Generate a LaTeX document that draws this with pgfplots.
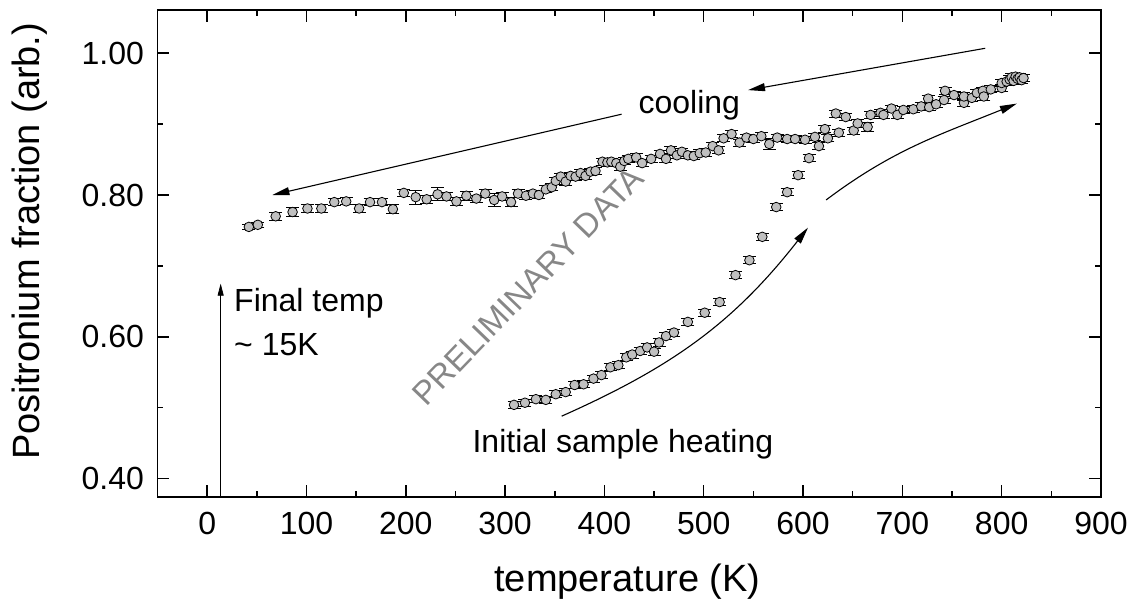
\documentclass[border=0pt]{standalone}
\usepackage{fontspec}
\setmainfont{Liberation Sans}
\usepackage{pgfplots}
\pgfplotsset{compat=1.18}
\usetikzlibrary{arrows.meta}
\definecolor{mfill}{RGB}{192,192,192}
\definecolor{wm}{RGB}{135,135,135}
\begin{document}
\begin{tikzpicture}
\begin{axis}[
  at={(0pt,0pt)}, anchor=south west,
  scale only axis, width=943.5pt, height=487pt,
  xmin=-50, xmax=900, ymin=0.374, ymax=1.061,
  xtick={0,100,...,900}, minor x tick num=1,
  ytick={0.4,0.6,0.8,1.0}, minor y tick num=1,
  tick align=inside,
  major tick length=12pt, minor tick length=6pt,
  every tick/.style={black, line width=1.5pt},
  axis line style={line width=1.5pt},
  /pgf/number format/assume math mode=true,
  tick label style={font=\fontsize{32}{38}\selectfont},
  yticklabel style={xshift=-10pt, /pgf/number format/.cd, fixed, fixed zerofill, precision=2},
  xticklabel style={yshift=-12pt, /pgf/number format/.cd, fixed, precision=0, set thousands separator={}},
  xlabel={temperature (K)},
  ylabel={Positronium fraction (arb.)},
  label style={font=\fontsize{38}{44}\selectfont},
  xlabel style={at={(axis description cs:0.498,-0.1745)}, anchor=center},
  ylabel style={at={(axis description cs:-0.1351,0.525)}, anchor=center},
  clip=false,
]
\addplot[only marks, mark=*, mark size=4.8pt,
  mark options={fill=mfill, draw=black, line width=0.8pt},
  error bars/.cd, y dir=both, y explicit,
  error bar style={line width=0.9pt, black},
  error mark options={rotate=90, mark size=6.5pt, line width=0.9pt, black}]
table[x=T, y=v, y error=e] {
T v e
42 0.755 0.004
51 0.758 0.004
69 0.770 0.006
86 0.776 0.006
101 0.781 0.005
115 0.781 0.005
128 0.790 0.005
140 0.791 0.005
153 0.781 0.006
164 0.790 0.005
176 0.790 0.005
187 0.780 0.006
198 0.803 0.005
210 0.797 0.010
221 0.794 0.006
232 0.801 0.009
241 0.798 0.006
251 0.791 0.006
261 0.799 0.006
271 0.795 0.005
280 0.802 0.006
289 0.793 0.009
297 0.798 0.006
306 0.790 0.006
313 0.802 0.006
321 0.799 0.005
328 0.802 0.005
334 0.800 0.005
341 0.808 0.005
347 0.811 0.005
351 0.820 0.005
356 0.826 0.005
361 0.819 0.005
366 0.827 0.005
371 0.826 0.005
376 0.831 0.005
381 0.827 0.005
386 0.833 0.005
391 0.834 0.005
398 0.847 0.005
403 0.846 0.005
407 0.847 0.005
412 0.845 0.005
416 0.840 0.005
420 0.848 0.005
424 0.851 0.005
432 0.853 0.005
438 0.845 0.005
447 0.851 0.005
456 0.858 0.005
462 0.851 0.005
467 0.863 0.005
473 0.856 0.005
478 0.861 0.005
484 0.856 0.005
490 0.855 0.005
496 0.859 0.005
502 0.860 0.005
509 0.869 0.005
515 0.863 0.005
520 0.880 0.005
528 0.886 0.005
536 0.874 0.005
543 0.881 0.005
550 0.879 0.005
558 0.883 0.005
566 0.872 0.008
574 0.881 0.005
584 0.879 0.005
592 0.879 0.005
602 0.878 0.005
612 0.882 0.005
625 0.880 0.005
633 0.915 0.005
636 0.888 0.005
643 0.910 0.005
651 0.891 0.005
655 0.901 0.005
665 0.896 0.007
668 0.913 0.005
678 0.916 0.005
681 0.913 0.005
689 0.922 0.005
695 0.913 0.005
701 0.920 0.005
711 0.921 0.005
719 0.925 0.005
726 0.936 0.005
727 0.924 0.005
734 0.928 0.005
742 0.934 0.005
743 0.947 0.005
752 0.941 0.005
762 0.930 0.005
762 0.939 0.005
770 0.937 0.005
775 0.944 0.005
781 0.947 0.005
782 0.939 0.005
789 0.949 0.005
800 0.951 0.005
800 0.958 0.005
805 0.960 0.005
808 0.963 0.005
810 0.966 0.005
812 0.961 0.005
814 0.967 0.005
816 0.964 0.005
818 0.966 0.005
820 0.962 0.005
822 0.965 0.005
};
\addplot[only marks, mark=*, mark size=4.8pt,
  mark options={fill=mfill, draw=black, line width=0.8pt},
  error bars/.cd, y dir=both, y explicit,
  error bar style={line width=0.9pt, black},
  error mark options={rotate=90, mark size=6.5pt, line width=0.9pt, black}]
table[x=T, y=v, y error=e] {
T v e
309 0.504 0.005
320 0.507 0.005
331 0.512 0.005
341 0.511 0.005
351 0.519 0.005
361 0.522 0.005
370 0.532 0.005
379 0.533 0.005
389 0.541 0.005
397 0.546 0.005
406 0.557 0.005
414 0.560 0.005
422 0.571 0.005
428 0.575 0.005
436 0.580 0.005
443 0.585 0.005
450 0.579 0.005
455 0.592 0.005
462 0.601 0.005
470 0.606 0.005
484 0.621 0.005
501 0.634 0.005
516 0.649 0.005
532 0.687 0.005
546 0.708 0.005
559 0.741 0.005
573 0.783 0.005
584 0.804 0.005
595 0.828 0.005
606 0.852 0.005
616 0.869 0.005
622 0.893 0.005
};
% watermark
\node[text=wm, rotate=46, font=\fontsize{33}{38}\selectfont, anchor=center]
  at (axis cs:323,0.672) {PRELIMINARY DATA};
% cooling
\node[font=\fontsize{32}{38}\selectfont, anchor=base] at (axis cs:485.5,0.915) {cooling};
\draw[line width=1.1pt, -{Triangle[length=17pt,width=8pt]}] (axis cs:783.4,1.007) -- (axis cs:544.6,0.948);
\draw[line width=1.1pt, -{Triangle[length=17pt,width=8pt]}] (axis cs:417.3,0.914) -- (axis cs:65.7,0.800);
% heating
\node[font=\fontsize{32}{38}\selectfont, anchor=base] at (axis cs:418.6,0.437) {Initial sample heating};
\draw[line width=1.1pt, -{Triangle[length=17pt,width=8pt]}] (axis cs:356.9,0.488) to[out=24,in=232] (axis cs:605,0.754);
\draw[line width=1.1pt, -{Triangle[length=17pt,width=8pt]}] (axis cs:623.2,0.793) to[out=37,in=202] (axis cs:815.3,0.929);
% final temp
\draw[line width=0.7pt, -{Triangle[length=12pt,width=6pt]}] (axis cs:13.6,0.374) -- (axis cs:13.6,0.675);
\node[font=\fontsize{32}{38}\selectfont, anchor=base west] at (axis cs:23.7,0.635) {Final temp};
\node[font=\fontsize{32}{38}\selectfont, anchor=base west] at (axis cs:23.7,0.574) {\char"007E\ 15K};
\end{axis}
\pgfresetboundingbox
\path[use as bounding box] (-157.5pt,-101pt) rectangle (972.5pt,497pt);
\end{tikzpicture}
\end{document}
